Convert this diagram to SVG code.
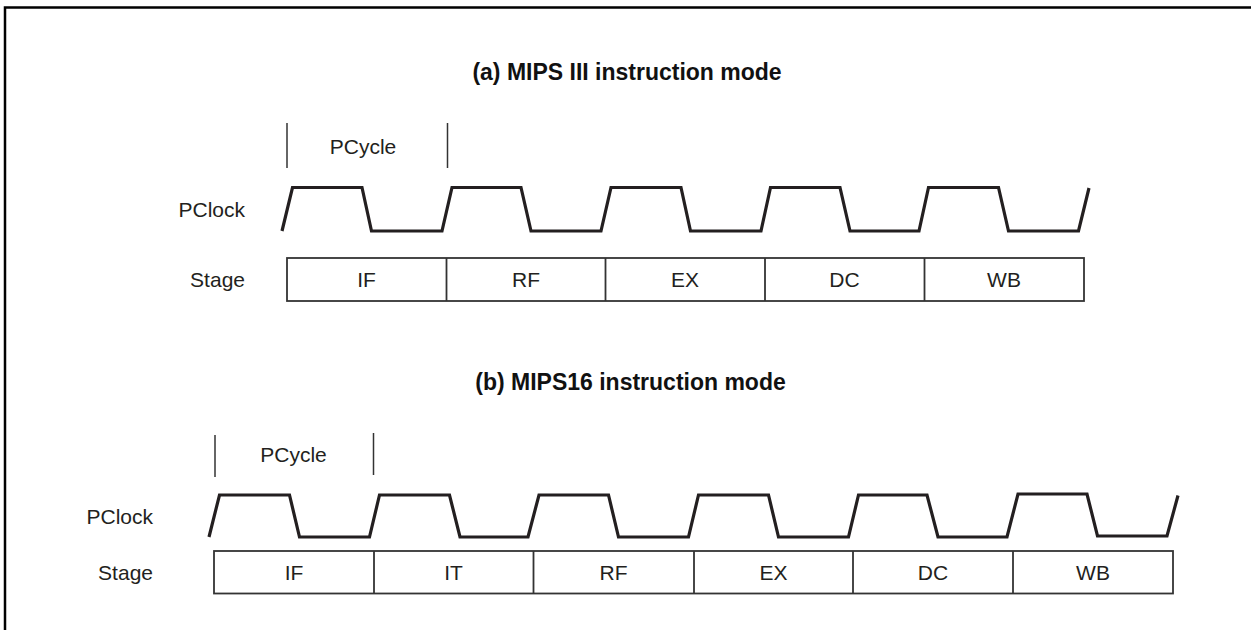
<svg xmlns="http://www.w3.org/2000/svg" width="1251" height="630" viewBox="0 0 1251 630">
<style>
.t{font-family:"Liberation Sans",Arial,sans-serif;font-size:21px;fill:#231f20}
.ttl{font-family:"Liberation Sans",Arial,sans-serif;font-size:23px;font-weight:bold;fill:#111;text-anchor:middle}
.c{text-anchor:middle}
.r{text-anchor:end}
.wave{fill:none;stroke:#231f20;stroke-width:3.2;stroke-linejoin:miter}
.box{fill:none;stroke:#333;stroke-width:1.8}
.tick{stroke:#333;stroke-width:1.5}
</style>
<rect width="1251" height="630" fill="#fff"/>
<path d="M5,630 V7.5 H1251" fill="none" stroke="#000" stroke-width="2.5"/>

<g id="partA">
  <text class="ttl" x="627" y="80">(a) MIPS III instruction mode</text>
  <g id="pcycleA">
    <line class="tick" x1="287" y1="123" x2="287" y2="168"/>
    <line class="tick" x1="447.5" y1="123" x2="447.5" y2="168"/>
    <text class="t c" x="363" y="154">PCycle</text>
  </g>
  <g id="pclockA">
    <text class="t r" x="245" y="217">PClock</text>
    <polyline class="wave" points="282,231 292.5,187.5 362,187.5 371.5,231 442,231 452,187.5 521,187.5 531,231 601,231 611,187.5 681,187.5 690.5,231 761,231 770.5,187.5 840,187.5 850,231 919,231 928.5,187.5 998.5,187.5 1008.5,231 1078.5,231 1089,188"/>
  </g>
  <g id="stageA">
    <text class="t r" x="245" y="287">Stage</text>
    <rect class="box" x="287" y="258" width="797" height="43"/>
    <line class="box" x1="446.5" y1="258" x2="446.5" y2="301"/>
    <line class="box" x1="605.5" y1="258" x2="605.5" y2="301"/>
    <line class="box" x1="765" y1="258" x2="765" y2="301"/>
    <line class="box" x1="924.5" y1="258" x2="924.5" y2="301"/>
    <text class="t c" x="366.5" y="287">IF</text>
    <text class="t c" x="526" y="287">RF</text>
    <text class="t c" x="685" y="287">EX</text>
    <text class="t c" x="844.5" y="287">DC</text>
    <text class="t c" x="1004" y="287">WB</text>
  </g>
</g>

<g id="partB">
  <text class="ttl" x="630.5" y="390">(b) MIPS16 instruction mode</text>
  <g id="pcycleB">
    <line class="tick" x1="215" y1="435" x2="215" y2="477"/>
    <line class="tick" x1="373.5" y1="433" x2="373.5" y2="475"/>
    <text class="t c" x="293.5" y="461.5">PCycle</text>
  </g>
  <g id="pclockB">
    <text class="t r" x="153" y="524">PClock</text>
    <polyline class="wave" points="209,537 219.5,495 289.5,495 299.5,537 369.5,537 379.5,495 449.5,495 460,537 528,537 539,495 608.5,495 618.5,537 688.5,537 698.5,495 768.5,495 778.5,537 848.5,537 858.5,495 927,495 938,537 1007,537 1018,494 1087,494 1097.5,536 1167,536 1178,495.5"/>
  </g>
  <g id="stageB">
    <text class="t r" x="153" y="579.5">Stage</text>
    <rect class="box" x="214" y="551" width="959" height="42.5"/>
    <line class="box" x1="374" y1="551" x2="374" y2="593.5"/>
    <line class="box" x1="533.5" y1="551" x2="533.5" y2="593.5"/>
    <line class="box" x1="694" y1="551" x2="694" y2="593.5"/>
    <line class="box" x1="853" y1="551" x2="853" y2="593.5"/>
    <line class="box" x1="1013" y1="551" x2="1013" y2="593.5"/>
    <text class="t c" x="294" y="579.5">IF</text>
    <text class="t c" x="453.5" y="579.5">IT</text>
    <text class="t c" x="613.5" y="579.5">RF</text>
    <text class="t c" x="773.5" y="579.5">EX</text>
    <text class="t c" x="933" y="579.5">DC</text>
    <text class="t c" x="1093" y="579.5">WB</text>
  </g>
</g>
</svg>
